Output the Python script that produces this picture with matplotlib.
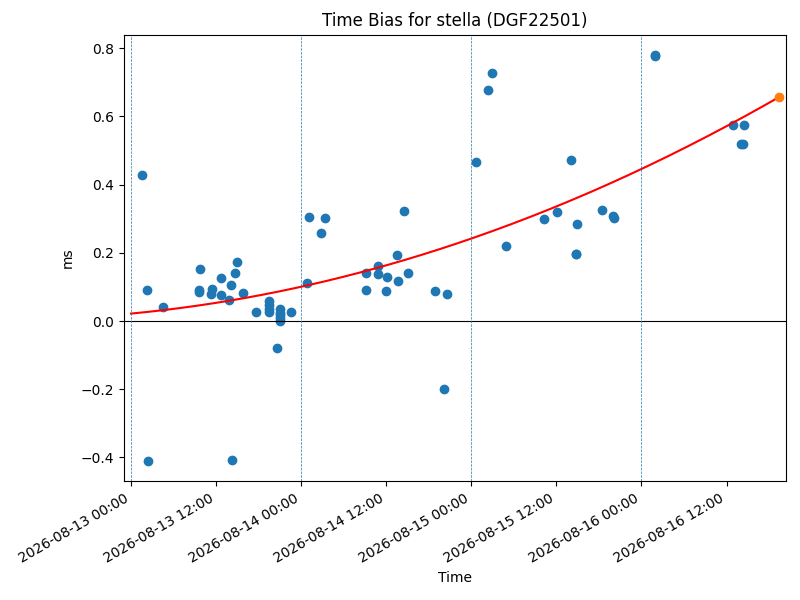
import matplotlib
matplotlib.use("Agg")
import matplotlib.pyplot as plt
import matplotlib.dates as mdates
import numpy as np
import pandas as pd

times = [
    "2026-08-13 01:33", "2026-08-13 02:19", "2026-08-13 02:24", "2026-08-13 04:31",
    "2026-08-13 09:42", "2026-08-13 09:36", "2026-08-13 09:36", "2026-08-13 11:24",
    "2026-08-13 11:15", "2026-08-13 12:40", "2026-08-13 12:46", "2026-08-13 13:50",
    "2026-08-13 14:06", "2026-08-13 14:16", "2026-08-13 14:42", "2026-08-13 14:58",
    "2026-08-13 15:48", "2026-08-13 17:36", "2026-08-13 19:24", "2026-08-13 19:24",
    "2026-08-13 19:24", "2026-08-13 19:24", "2026-08-13 20:36", "2026-08-13 21:00",
    "2026-08-13 21:00", "2026-08-13 21:00", "2026-08-13 21:00", "2026-08-13 21:00",
    "2026-08-13 22:36", "2026-08-14 00:51", "2026-08-14 01:06", "2026-08-14 02:48",
    "2026-08-14 03:24", "2026-08-14 09:12", "2026-08-14 09:12", "2026-08-14 10:54",
    "2026-08-14 10:54", "2026-08-14 12:00", "2026-08-14 12:06", "2026-08-14 13:30",
    "2026-08-14 13:42", "2026-08-14 14:30", "2026-08-14 15:06", "2026-08-14 18:54",
    "2026-08-14 20:09", "2026-08-14 20:36", "2026-08-15 00:42", "2026-08-15 02:24",
    "2026-08-15 02:58", "2026-08-15 04:54", "2026-08-15 10:18", "2026-08-15 12:06",
    "2026-08-15 14:06", "2026-08-15 14:42", "2026-08-15 14:48", "2026-08-15 14:54",
    "2026-08-15 18:30", "2026-08-15 20:03", "2026-08-15 20:09", "2026-08-16 01:51",
    "2026-08-16 01:57", "2026-08-16 12:51", "2026-08-16 14:06", "2026-08-16 14:18",
    "2026-08-16 14:30",
]
bias_ms = [
    0.428, 0.090, -0.410, 0.041,
    0.152, 0.092, 0.084, 0.093,
    0.079, 0.076, 0.126, 0.061,
    0.105, -0.407, 0.142, 0.173,
    0.081, 0.028, 0.058, 0.048,
    0.035, 0.028, -0.079, 0.035,
    0.025, 0.019, 0.010, 0.000,
    0.026, 0.111, 0.304, 0.257,
    0.301, 0.142, 0.090, 0.161,
    0.137, 0.087, 0.128, 0.195,
    0.119, 0.322, 0.140, 0.087,
    -0.198, 0.078, 0.466, 0.677,
    0.727, 0.219, 0.298, 0.320,
    0.473, 0.198, 0.196, 0.284,
    0.325, 0.307, 0.301, 0.780,
    0.778, 0.574, 0.519, 0.519,
    0.574,
]
# quadratic trend (ms vs hours since fit_start), coefficients
trend_coef = [5.44e-5, 0.001972, 0.022]
fit_start = "2026-08-13 00:00"
fit_end = "2026-08-16 19:21"
day_lines = ["2026-08-13", "2026-08-14", "2026-08-15", "2026-08-16"]
x_limits = ["2026-08-12 23:01", "2026-08-16 20:20"]

t = pd.to_datetime(times)
y = np.array(bias_ms)
t0 = pd.Timestamp(fit_start)
t_end = pd.Timestamp(fit_end)
h_end = (t_end - t0).total_seconds() / 3600.0
hh = np.linspace(0, h_end, 200)
tt = t0 + pd.to_timedelta(hh, unit="h")
yy = np.polyval(trend_coef, hh)

fig = plt.figure(figsize=(8, 6), dpi=100)
ax = fig.add_subplot(111)

ax.plot(t, y, "o")
ax.plot(tt, yy, "r-")
ax.plot([t_end], [np.polyval(trend_coef, h_end)], "o")
ax.axhline(0, color="black", linewidth=0.8)
for d in day_lines:
    ax.axvline(pd.Timestamp(d), color="tab:blue", linestyle="--", linewidth=0.5)

ax.set_xlim(pd.Timestamp(x_limits[0]), pd.Timestamp(x_limits[1]))
ax.xaxis.set_major_locator(mdates.HourLocator(byhour=[0, 12]))
ax.xaxis.set_major_formatter(mdates.DateFormatter("%Y-%m-%d %H:%M"))
fig.autofmt_xdate()
fig.subplots_adjust(left=0.155, right=0.982, top=0.942, bottom=0.198)
ax.set_title("Time Bias for stella (DGF22501)")
ax.set_xlabel("Time")
ax.set_ylabel("ms")

fig.savefig("out.png", dpi=100)
